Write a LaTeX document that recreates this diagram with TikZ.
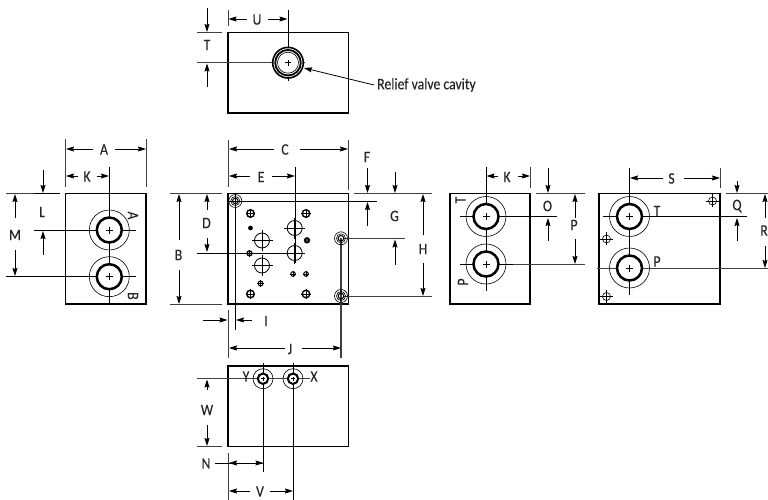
\documentclass[tikz,border=0pt]{standalone}
\usepackage{fontspec}
\setmainfont[FakeStretch=0.86,FakeBold=0.25]{Carlito}
\usetikzlibrary{arrows.meta}
\definecolor{dimgray}{gray}{0.25}
\tikzset{
  x=1pt,y=-1pt,
  body/.style={draw=black,line width=1.3pt},
  thin line/.style={draw=black,line width=0.8pt},
  ext/.style={draw=dimgray,line width=0.8pt},
  dim/.style={draw=black,line width=0.8pt,-{Stealth[length=8pt,width=5pt,inset=1pt]}},
  lab/.style={font=\fontsize{16}{16}\selectfont,inner sep=0pt,text=black!85},
  ring/.style={draw=black,line width=0.6pt,fill=none},
  fat/.style={draw=black,line width=2.5pt,fill=white},
}
\newcommand{\port}[2]{%
  \draw[ring] (#1,#2) circle[radius=20];
  \draw[fat] (#1,#2) circle[radius=12.5];
  \draw[thin line] (#1-3.5,#2) -- (#1+3.5,#2) (#1,#2-3.5) -- (#1,#2+3.5);
}
\newcommand{\mount}[4]{% x y r ext
  \draw[ring,line width=#4] (#1,#2) circle[radius=#3];
  \draw[thin line] (#1-#3-1,#2) -- (#1+#3+1,#2) (#1,#2-#3-1) -- (#1,#2+#3+1);
}
\newcommand{\bolt}[2]{%
  \draw[ring] (#1,#2) circle[radius=6.5];
  \draw[ring] (#1,#2) circle[radius=4.5];
  \draw[ring,line width=1pt] (#1,#2) circle[radius=2.8];
}
\newcommand{\bigbore}[2]{%
  \draw[ring,line width=0.8pt] (#1,#2) circle[radius=7.5];
  \draw[thin line] (#1-10.5,#2) -- (#1+10.5,#2) (#1,#2-10.5) -- (#1,#2+10.5);
}
\newcommand{\cross}[2]{%
  \draw[ring] (#1,#2) circle[radius=4];
  \draw[thin line] (#1-7,#2) -- (#1+6,#2) (#1,#2-7) -- (#1,#2+6);
}
\begin{document}
\begin{tikzpicture}
\useasboundingbox (0,0) rectangle (768,500);
% ---- top view
\draw[body] (228,32.5) rectangle (348.5,113);
\draw[ext] (197,32.5) -- (222,32.5);
\draw[ext] (197,62.7) -- (305,62.7);
\draw[ext] (228,10) -- (228,26);
\draw[thin line] (288,10) -- (288,81);
\draw[black,line width=1.6pt,fill=white] (288,62.7) circle[radius=15.3];
\draw[black,line width=1.8pt] (288,62.7) circle[radius=12.8];
\draw[black,line width=0.6pt] (288,62.7) circle[radius=10.5];
\draw[thin line] (285,62.7) -- (291,62.7) (288,59.7) -- (288,65.7);
\draw[dim] (207,8) -- (207,32);
\draw[dim] (207,87) -- (207,63.5);
\node[lab] (tT) at (207,45) {T};
\draw[dim] (247,19) -- (228.5,19);
\draw[dim] (268,19) -- (287.5,19);
\node[lab] (tU) at (257,19.5) {U};
\node[lab,anchor=west] (rv) at (377,85) {Relief valve cavity};
\draw[dim] ([xshift=-3pt]rv.west) -- (304,68);
% ---- left view
\draw[body] (65.5,193.5) rectangle (146,304);
\draw[ext] (65.5,139) -- (65.5,187);
\draw[ext] (146,139) -- (146,187);
\draw[dim] (93,149) -- (66,149);
\draw[dim] (115,149) -- (146,149);
\node[lab] (lA) at (104,149.5) {A};
\draw[dim] (78,176) -- (66,176);
\draw[dim] (97,176) -- (109,176);
\node[lab] (lK) at (87,176.5) {K};
\draw[thin line] (109.3,167) -- (109.3,304);
\draw[ext] (6,193.5) -- (34,193.5);
\draw[black,line width=1.2pt] (34,193.5) -- (60,193.5);
\draw[thin line] (34,230) -- (136,230);
\draw[thin line] (6,276.7) -- (136,276.7);
\port{109.3}{230}
\port{109.3}{276.7}
\draw[dim] (43,170) -- (43,193);
\draw[dim] (43,255) -- (43,231);
\node[lab] (lL) at (42,212) {L};
\draw[dim] (15,218) -- (15,194);
\draw[dim] (15,250) -- (15,276);
\node[lab] (lM) at (15,235) {M};
\node[lab,rotate=-90] (pA) at (133,215.5) {A};
\node[lab,rotate=-90] (pB) at (133,296) {B};
% ---- main view
\draw[body] (228,193.5) rectangle (348.5,304);
\draw[ext] (228,140) -- (228,187);
\draw[ext] (348,140) -- (348,190);
\draw[dim] (274,149) -- (229,149);
\draw[dim] (300,149) -- (348,149);
\node[lab] (mC) at (285,149.5) {C};
\draw[dim] (250,176) -- (229,176);
\draw[dim] (272,176) -- (295,176);
\node[lab] (mE) at (261,177) {E};
\draw[thin line] (295,167) -- (295,263);
\draw[ext] (170,193.5) -- (222,193.5);
\draw[ext] (170,304) -- (222,304);
\draw[dim] (207,210) -- (207,194);
\draw[dim] (207,238) -- (207,252);
\node[lab] (mD) at (206.5,223) {D};
\draw[dim] (179,240) -- (179,194);
\draw[dim] (179,270) -- (179,304);
\node[lab] (mB) at (178.5,255) {B};
\draw[thin line] (197,253) -- (305,253);
\draw[thin line] (228,201) -- (377,201);
\draw[thin line] (235.3,194) -- (235.3,330);
\draw[ext] (354,193.5) -- (432,193.5);
\draw[ext] (343,238.3) -- (405,238.3);
\draw[ext] (343,296) -- (432,296);
\draw[dimgray,line width=1.1pt] (341,238) -- (341,358);
\draw[dim] (367.5,168) -- (367.5,193);
\draw[dim] (395,172) -- (395,193);
\draw[dim] (367.5,226) -- (367.5,202);
\draw[dim] (395,265) -- (395,239.5);
\node[lab] (mF) at (367,157) {F};
\node[lab] (mG) at (394.5,216) {G};
\draw[dim] (423,235) -- (423,194);
\draw[dim] (423,263) -- (423,296);
\node[lab] (mH) at (423,249) {H};
\draw[dim] (203,320) -- (227.5,320);
\draw[dim] (252,320) -- (236,320);
\node[lab] (mI) at (266,321) {I};
\draw[ext] (228,310) -- (228,358);
\draw[dim] (285,348) -- (229,348);
\draw[dim] (302,348) -- (341,348);
\node[lab] (mJ) at (290,349) {J};
\bolt{235.3}{201}
\bolt{341}{238.3}
\bolt{341}{296}
\mount{250.5}{213.5}{3.8}{1.4pt}
\mount{306}{213.5}{3.8}{1.4pt}
\mount{250.5}{294}{3.8}{1.4pt}
\mount{306}{294}{3.8}{1.4pt}
\fill[black] (250.5,228) circle[radius=2.4];
\bigbore{262}{240.5}
\bigbore{262}{265.5}
\bigbore{294.7}{228}
\bigbore{294.7}{253}
\draw[black,line width=1.5pt,fill=dimgray] (307,240.3) circle[radius=2.4];
\mount{249.5}{253.3}{2.5}{1.3pt}
\mount{293}{274}{2.3}{1pt}
\mount{306}{274}{2.3}{1pt}
\mount{260.5}{283.5}{2.5}{1pt}
% ---- P T view
\draw[body] (450,193.7) rectangle (530,304);
\draw[thin line] (486,167) -- (486,291);
\draw[ext] (530,167) -- (530,188);
\draw[dim] (498,176) -- (486.5,176);
\draw[dim] (518,176) -- (530,176);
\node[lab] (nK) at (507,177) {K};
\draw[ext] (536,193.7) -- (585,193.7);
\draw[thin line] (460,216.5) -- (557,216.5);
\draw[thin line] (460,264) -- (513,264);
\draw[ext] (513,264) -- (585,264);
\port{486}{216.5}
\port{486}{264}
\draw[dim] (548,168) -- (548,193);
\draw[dim] (548,241) -- (548,218);
\node[lab] (nO) at (547.5,206) {O};
\draw[dim] (575,218) -- (575,194);
\draw[dim] (575,239) -- (575,264);
\node[lab] (nP) at (574,225) {P};
\node[lab,rotate=90] (pT) at (460.5,200) {T};
\node[lab,rotate=90] (pP) at (463,282) {P};
% ---- right view
\draw[body] (599,193.7) rectangle (720,304);
\draw[thin line] (629.5,168) -- (629.5,295);
\draw[ext] (720,168) -- (720,188);
\draw[dim] (663,178) -- (630,178);
\draw[dim] (684,178) -- (720,178);
\node[lab] (sS) at (671.5,178.5) {S};
\draw[ext] (726,193.7) -- (768,193.7);
\draw[thin line] (603,216.5) -- (747,216.5);
\draw[ext] (597,268) -- (768,268);
\port{629.5}{216.5}
\port{629.5}{268}
\draw[dim] (737,181) -- (737,193);
\draw[dim] (737,241) -- (737,218);
\node[lab] (sQ) at (737,206) {Q};
\draw[dim] (765,218) -- (765,194);
\draw[dim] (765,246) -- (765,268);
\node[lab] (sR) at (764,230.5) {R};
\node[lab] (sT) at (657,211) {T};
\node[lab] (sP) at (657,261.5) {P};
\cross{712.5}{201}
\cross{606.5}{239}
\cross{606.5}{296.5}
% ---- bottom view
\draw[body] (228,366) rectangle (348.5,446.5);
\draw[thin line] (263,363) -- (263,472);
\draw[thin line] (293,363) -- (293,500);
\draw[ext] (197,378.7) -- (310,378.7);
\foreach \cx in {263,293}{
  \draw[ring] (\cx,378.7) circle[radius=10];
  \draw[black,line width=2pt,fill=white] (\cx,378.7) circle[radius=5.2];
  \draw[thin line,line width=0.5pt] (\cx-2,378.7) -- (\cx+2,378.7) (\cx,376.7) -- (\cx,380.7);
}
\node[lab] (bY) at (246,376.5) {Y};
\node[lab] (bX) at (314,376.5) {X};
\draw[dim] (207,390) -- (207,379.5);
\draw[dim] (207,425) -- (207,446);
\node[lab] (bW) at (207,410) {W};
\draw[ext] (197,446.7) -- (222,446.7);
\draw[ext] (228,453) -- (228,500);
\node[lab] (bN) at (206,463.5) {N};
\draw[thin line] (215,463) -- (263,463);
\draw[dim] (240,463) -- (229,463);
\draw[dim] (250,463) -- (263.5,463);
\draw[dim] (250,491) -- (229,491);
\draw[dim] (270,491) -- (293,491);
\node[lab] (bV) at (260,491.5) {V};
\end{tikzpicture}
\end{document}
